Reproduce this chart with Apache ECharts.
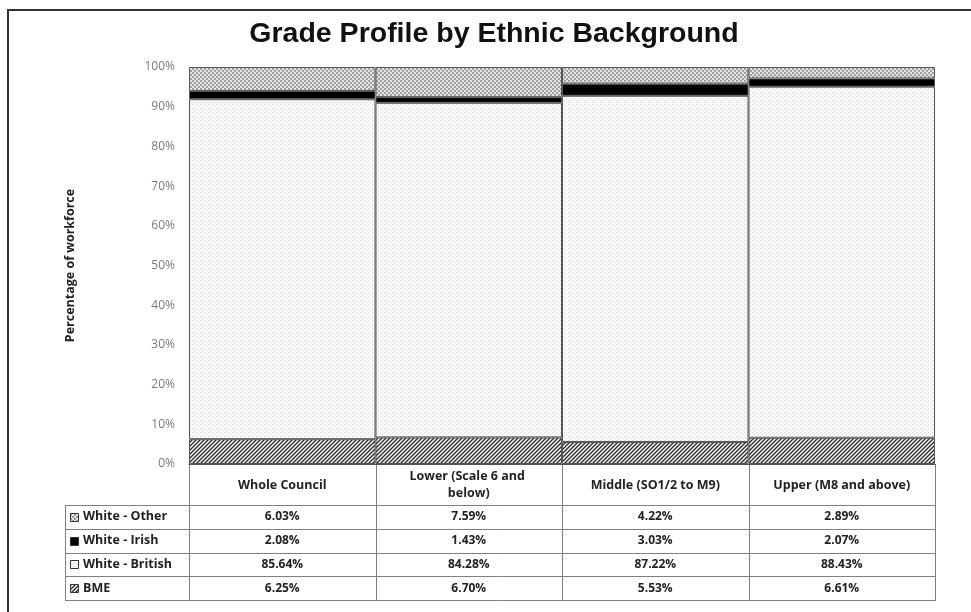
<!DOCTYPE html>
<html><head><meta charset="utf-8">
<script src="https://cdn.jsdelivr.net/npm/echarts@6/dist/echarts.min.js"></script>
<style>html,body{margin:0;padding:0;background:#fff}#c{width:971px;height:612px}</style>
</head><body><div id="c"></div>
<script>
// ---- data ----
const categories = ['Whole Council', 'Lower (Scale 6 and below)', 'Middle (SO1/2 to M9)', 'Upper (M8 and above)'];
const seriesNames = ['BME', 'White - British', 'White - Irish', 'White - Other'];
const bme = [6.25, 6.70, 5.53, 6.61];
const whiteBritish = [85.64, 84.28, 87.22, 88.43];
const whiteIrish = [2.08, 1.43, 3.03, 2.07];
const whiteOther = [6.03, 7.59, 4.22, 2.89];
const tableRows = ['White - Other', 'White - Irish', 'White - British', 'BME'];
const titleText = 'Grade Profile by Ethnic Background';
const yAxisName = 'Percentage of workforce';

const dataByName = {
  'BME': bme, 'White - British': whiteBritish, 'White - Irish': whiteIrish, 'White - Other': whiteOther
};

// ---- patterns ----
function makeTile(w, h, draw) {
  const c = document.createElement('canvas'); c.width = w; c.height = h;
  draw(c.getContext('2d')); return c;
}
const hatchTile = makeTile(4, 4, g => {
  g.fillStyle = '#ffffff'; g.fillRect(0, 0, 4, 4);
  g.strokeStyle = '#333333'; g.lineWidth = 1.5; g.beginPath();
  g.moveTo(0, 4); g.lineTo(4, 0);
  g.moveTo(-1, 1); g.lineTo(1, -1);
  g.moveTo(3, 5); g.lineTo(5, 3);
  g.stroke();
});
const dotTile = makeTile(4, 4, g => {
  g.fillStyle = '#fbfbfb'; g.fillRect(0, 0, 4, 4);
  g.fillStyle = '#d0d0d0'; g.fillRect(0, 0, 1, 1); g.fillRect(2, 2, 1, 1);
});
const checkTile = makeTile(4, 4, g => {
  g.fillStyle = '#e4e4e4'; g.fillRect(0, 0, 4, 4);
  g.fillStyle = '#a0a0a0'; g.fillRect(0, 0, 2, 2); g.fillRect(2, 2, 2, 2);
});
const fills = {
  'BME': { image: hatchTile, repeat: 'repeat' },
  'White - British': { image: dotTile, repeat: 'repeat' },
  'White - Irish': '#000000',
  'White - Other': { image: checkTile, repeat: 'repeat' }
};

// ---- layout ----
const G = { left: 189, right: 36, top: 67, bottom: 148 };
const W = 971, H = 612;
const plotBottom = H - G.bottom;
const headerBottom = plotBottom + 41;
const rowH = 23.75;
const tableLeft = 65;
const labelFont = 'bold 12.5px "Open Sans", sans-serif';
const valueFont = 'bold 12px "Open Sans", sans-serif';

const chart = echarts.init(document.getElementById('c'), null, { renderer: 'canvas' });

const option = {
  animation: false,
  backgroundColor: '#ffffff',
  grid: { left: G.left, right: G.right, top: G.top, bottom: G.bottom, containLabel: false },
  xAxis: {
    type: 'category', data: categories,
    axisLine: { show: true, lineStyle: { color: '#555', width: 1 } },
    axisTick: { show: false },
    axisLabel: {
      interval: 0, margin: 21, verticalAlign: 'middle', width: 150, overflow: 'break',
      fontFamily: 'Open Sans', fontWeight: 'bold', fontSize: 12.5, color: '#222', lineHeight: 17
    }
  },
  yAxis: {
    type: 'value', min: 0, max: 100, interval: 10,
    name: yAxisName, nameLocation: 'middle', nameGap: 112, nameRotate: 90,
    nameTextStyle: { fontFamily: 'Open Sans', fontWeight: 'bold', fontSize: 12.5, color: '#222' },
    axisLine: { show: false }, axisTick: { show: false }, splitLine: { show: false },
    axisLabel: { formatter: '{value}%', margin: 14, fontFamily: 'Open Sans', fontSize: 12, color: '#7a7a7a' }
  },
  series: seriesNames.map(n => ({
    name: n, type: 'bar', stack: 'total', barCategoryGap: '0%',
    data: dataByName[n],
    itemStyle: { color: fills[n], borderColor: '#555', borderWidth: 1 }
  }))
};
chart.setOption(option);

// ---- table + frame + title as graphics ----
const graphics = [];
const lineColor = '#808080';
function hline(x1, x2, y, color, w) {
  graphics.push({ type: 'line', shape: { x1, y1: y, x2, y2: y }, style: { stroke: color || lineColor, lineWidth: w || 1 }, silent: true });
}
function vline(x, y1, y2, color, w) {
  graphics.push({ type: 'line', shape: { x1: x, y1, x2: x, y2 }, style: { stroke: color || lineColor, lineWidth: w || 1 }, silent: true });
}
const plotRight = W - G.right;
const colW = (plotRight - G.left) / categories.length;
const tableBottom = headerBottom + rowH * tableRows.length;

for (let i = 0; i <= categories.length; i++) {
  vline(Math.round(G.left + i * colW) + 0.5, plotBottom, tableBottom);
}
vline(tableLeft + 0.5, headerBottom, tableBottom);
for (let r = 0; r <= tableRows.length; r++) {
  hline(tableLeft, plotRight + 1, Math.round(headerBottom + r * rowH) + 0.5);
}

tableRows.forEach((name, r) => {
  const yc = headerBottom + r * rowH + rowH / 2;
  graphics.push({
    type: 'rect', shape: { x: 70.5, y: Math.round(yc - 4) + 0.5, width: 8, height: 8 },
    style: { fill: fills[name], stroke: '#333', lineWidth: 1 }, silent: true
  });
  graphics.push({
    type: 'text', x: 83, y: yc,
    style: { text: name, font: labelFont, fill: '#222', textAlign: 'left', textVerticalAlign: 'middle' }, silent: true
  });
  dataByName[name].forEach((v, i) => {
    const xc = chart.convertToPixel({ xAxisIndex: 0 }, categories[i]);
    graphics.push({
      type: 'text', x: xc, y: yc,
      style: { text: v.toFixed(2) + '%', font: valueFont, fill: '#222', textAlign: 'center', textVerticalAlign: 'middle' }, silent: true
    });
  });
});

graphics.push({
  type: 'text', x: 494, y: 34,
  style: { text: titleText, font: 'bold 28.5px "Liberation Sans", Arial, sans-serif', fill: '#111', textAlign: 'center', textVerticalAlign: 'middle' }, silent: true
});
graphics.push({
  type: 'polyline', shape: { points: [[8, H + 2], [8, 10], [W + 2, 10]] },
  style: { stroke: '#333', lineWidth: 2, fill: null }, silent: true
});

chart.setOption({ graphic: graphics });
</script>
</body></html>
